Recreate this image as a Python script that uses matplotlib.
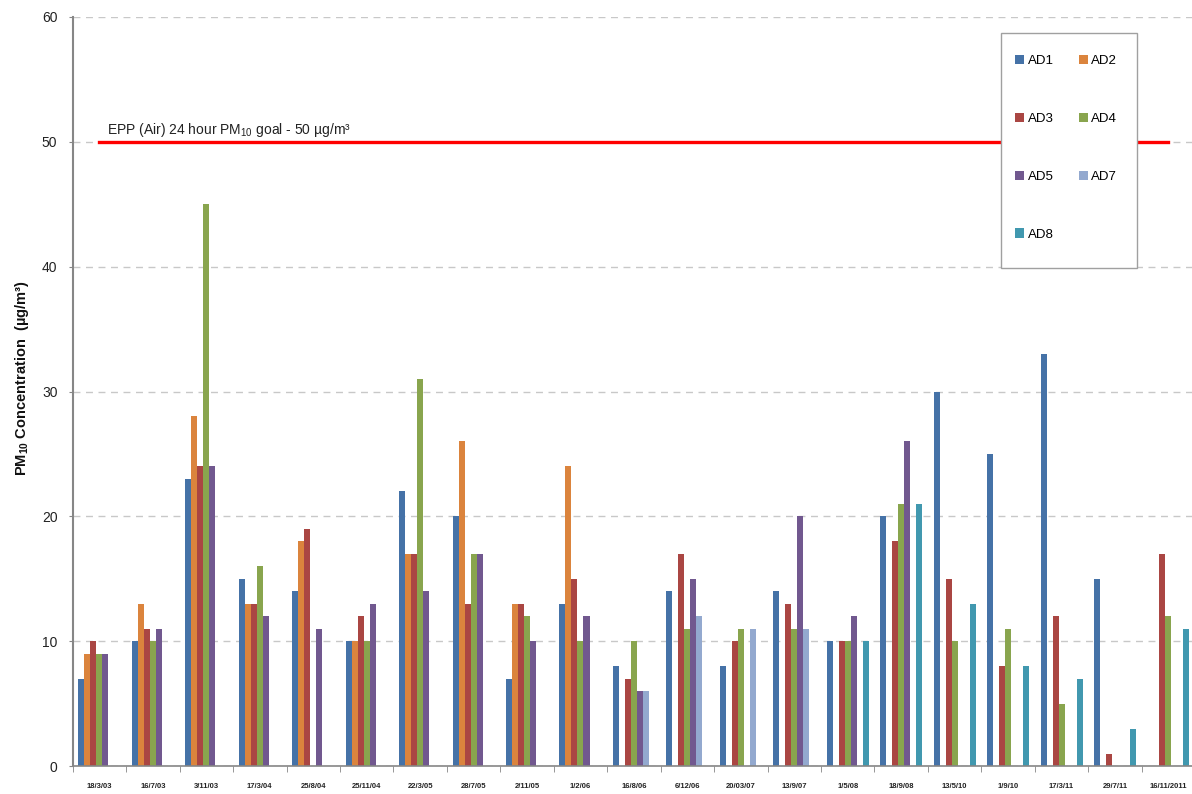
import numpy as np
import matplotlib
matplotlib.use('Agg')
import matplotlib.pyplot as plt
from matplotlib.patches import Rectangle

plt.rcParams['font.family'] = ['Liberation Sans', 'DejaVu Sans']
plt.rcParams['mathtext.fontset'] = 'custom'
plt.rcParams['mathtext.rm'] = 'Liberation Sans'
plt.rcParams['mathtext.bf'] = 'Liberation Sans:bold'

nan = np.nan

# sampling dates (one group of bars each)
dates = ['18/3/03', '16/7/03', '3/11/03', '17/3/04', '25/8/04', '25/11/04',
         '22/3/05', '28/7/05', '2/11/05', '1/2/06', '16/8/06', '6/12/06',
         '20/03/07', '13/9/07', '1/5/08', '18/9/08', '13/5/10', '1/9/10',
         '17/3/11', '29/7/11', '16/11/2011']

# PM10 concentrations (ug/m3) per monitoring site, nan = not sampled
ad1 = [7, 10, 23, 15, 14, 10, 22, 20, 7, 13, 8, 14, 8, 14, 10, 20, 30, 25, 33, 15, nan]
ad2 = [9, 13, 28, 13, 18, 10, 17, 26, 13, 24, nan, nan, nan, nan, nan, nan, nan, nan, nan, nan, nan]
ad3 = [10, 11, 24, 13, 19, 12, 17, 13, 13, 15, 7, 17, 10, 13, 10, 18, 15, 8, 12, 1, 17]
ad4 = [9, 10, 45, 16, nan, 10, 31, 17, 12, 10, 10, 11, 11, 11, 10, 21, 10, 11, 5, nan, 12]
ad5 = [9, 11, 24, 12, 11, 13, 14, 17, 10, 12, 6, 15, nan, 20, 12, 26, nan, nan, nan, nan, nan]
ad7 = [nan, nan, nan, nan, nan, nan, nan, nan, nan, nan, 6, 12, 11, 11, nan, nan, nan, nan, nan, nan, nan]
ad8 = [nan, nan, nan, nan, nan, nan, nan, nan, nan, nan, nan, nan, nan, nan, 10, 21, 13, 8, 7, 3, 11]

series = ['AD1', 'AD2', 'AD3', 'AD4', 'AD5', 'AD7', 'AD8']
values = [ad1, ad2, ad3, ad4, ad5, ad7, ad8]
colors = ['#4572A7', '#DB843D', '#AA4643', '#89A54E', '#71588F', '#93A9CF', '#4198AF']

goal = 50

fig = plt.figure(figsize=(11.92, 7.94), dpi=100)
ax = fig.add_axes([72.7 / 1192, 28 / 794, 1122.5 / 1192, 749 / 794])

x = np.arange(len(dates))
w = 0.1123
handles = []
for i, (name, vals, c) in enumerate(zip(series, values, colors)):
    b = ax.bar(x + (i - 3) * w, vals, width=w, color=c, label=name, zorder=2)
    handles.append(b)

# EPP goal line
ax.plot([x[0], x[-1]], [goal, goal], color='#ff0000', lw=2.4, zorder=3)
ax.text(0.14, goal + 0.6, 'EPP (Air) 24 hour PM$_{10}$ goal - 50 \u00b5g/m\u00b3',
        fontsize=10, color='#222222', va='baseline', ha='left', zorder=3)

ax.set_xlim(-0.5, len(dates) - 0.5)
ax.set_ylim(0, 60)
ax.set_yticks(np.arange(0, 61, 10))
ax.yaxis.grid(True, color='#c8c8c8', linestyle=(0, (5, 4)), linewidth=1)
ax.set_axisbelow(True)

ax.set_xticks(x)
ax.set_xticklabels(dates, fontsize=5.5, fontweight='bold', color='#222222')
ax.set_xticks(np.arange(-0.5, len(dates)), minor=True)
ax.tick_params(axis='x', which='major', length=0, pad=12)
ax.tick_params(axis='x', which='minor', length=4, color='#868686', direction='out')
ax.tick_params(axis='y', length=3, color='#868686', pad=8, labelsize=10, labelcolor='#222222')

for s in ['top', 'right']:
    ax.spines[s].set_visible(False)
ax.spines['left'].set_color('#868686')
ax.spines['left'].set_linewidth(1.5)
ax.spines['bottom'].set_color('#868686')
ax.spines['bottom'].set_linewidth(1.2)

ax.set_ylabel('PM$_{\\mathbf{10}}$ Concentration  (\u00b5g/m\u00b3)', fontsize=10.5,
              fontweight='bold', color='#111111')
ax.yaxis.set_label_coords(-0.037, 0.518)

# legend box
box = Rectangle((1001 / 1192, 1 - 268 / 794), 136 / 1192, 235 / 794,
                transform=fig.transFigure, facecolor='white', edgecolor='#a0a0a0',
                lw=1, zorder=5)
ax.add_patch(box)
order = [0, 2, 4, 6, 1, 3, 5]
leg = ax.legend([handles[k] for k in order], [series[k] for k in order], ncol=2,
                loc='upper left', bbox_to_anchor=(1015 / 1192, 1 - 55 / 794),
                bbox_transform=fig.transFigure, frameon=False, fontsize=9.5,
                handlelength=0.7, handleheight=0.7, handletextpad=0.25,
                labelspacing=3.45, columnspacing=1.9, borderpad=0, borderaxespad=0)
leg.set_zorder(6)

fig.savefig('out.png', dpi=100)
